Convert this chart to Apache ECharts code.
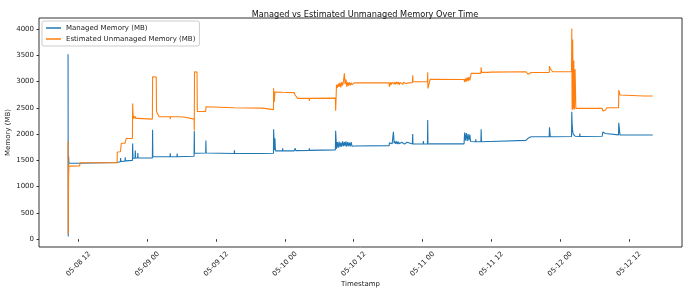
<!doctype html>
<html lang="en">
<head>
    <meta charset="UTF-8">
    <script src="https://cdn.jsdelivr.net/npm/echarts@6/dist/echarts.min.js"></script>
    <title>Managed vs Estimated Unmanaged Memory Over Time</title>
    <style>
        html, body { margin: 0; padding: 0; background: #fff; }
    </style>
</head>
<body>
<div id="main" style="width: 690px;height:295px;"></div>
<script>
    // time = hours since 05-08 00:00
    var times = [
        10.17, 10.20, 10.26, 10.32, 12.20, 12.24, 18.72, 18.76, 19.30, 19.34,
        19.38, 19.46, 20.10, 20.14, 20.18, 20.30, 21.40, 21.44, 21.50, 21.60,
        21.85, 21.90, 21.95, 22.30, 22.34, 22.38, 24.88, 24.92, 24.96, 25.55,
        25.60, 26.05, 27.96, 28.00, 28.04, 29.16, 29.20, 29.24, 30.35, 30.40,
        32.15, 32.19, 32.23, 32.66, 32.72, 34.18, 34.22, 34.26, 39.16, 39.20,
        39.24, 44.10, 44.14, 46.00, 46.03, 46.15, 46.25, 46.35, 47.56, 47.60,
        47.64, 49.60, 49.80, 49.90, 50.22, 52.22, 52.26, 52.30, 56.80, 56.85,
        57.00, 57.15, 57.30, 57.45, 57.60, 57.75, 57.90, 58.05, 58.20, 58.37,
        58.50, 58.65, 58.80, 58.95, 59.10, 59.25, 59.40, 59.55, 59.70, 59.85,
        60.10, 66.18, 66.22, 66.40, 66.55, 66.70, 66.93, 67.05, 67.20, 67.35,
        67.50, 67.65, 67.80, 67.95, 68.10, 68.25, 68.40, 68.55, 68.70, 68.85,
        69.00, 69.15, 69.30, 69.50, 70.24, 70.29, 70.34, 72.12, 72.16, 72.20,
        72.87, 72.91, 72.95, 73.33, 79.25, 79.35, 79.50, 79.65, 79.80, 79.95,
        80.10, 80.25, 80.40, 80.48, 81.25, 81.29, 81.33, 82.19, 82.23, 82.30,
        83.36, 83.40, 83.44, 83.97, 84.00, 90.05, 90.40, 90.60, 90.95, 92.36,
        92.40, 92.44, 94.11, 94.15, 94.30, 94.72, 98.00, 98.04, 98.10, 98.20,
        98.30, 98.40, 98.50, 98.62, 98.75, 99.41, 99.45, 99.49, 103.35, 103.45,
        103.60, 103.75, 103.90, 104.05, 104.15, 106.20, 106.24, 106.45, 106.66, 110.65,
        110.69, 110.73, 112.17
    ];
    var managed = [
        3520, 50, 1580, 1445, 1445, 1460, 1460, 1475, 1475, 1545,
        1480, 1480, 1485, 1560, 1490, 1490, 1500, 1820, 1540, 1540,
        1540, 1690, 1545, 1545, 1640, 1545, 1545, 2085, 1570, 1570,
        1570, 1570, 1570, 1635, 1570, 1570, 1630, 1570, 1575, 1580,
        1580, 2060, 1635, 1635, 1635, 1640, 1880, 1640, 1630, 1690,
        1630, 1630, 1630, 1635, 2090, 1700, 1920, 1680, 1680, 1730,
        1680, 1680, 1730, 1685, 1685, 1690, 1730, 1690, 1700, 2065,
        1720, 1850, 1740, 1860, 1750, 1840, 1760, 1860, 1770, 1850,
        1770, 1860, 1760, 1850, 1770, 1840, 1765, 1850, 1770, 1800,
        1775, 1780, 1835, 1820, 1860, 1815, 2046, 1825, 1865, 1815,
        1860, 1810, 1855, 1815, 1850, 1810, 1845, 1815, 1850, 1810,
        1840, 1815, 1845, 1812, 1812, 2000, 1812, 1812, 1870, 1812,
        1812, 2268, 1812, 1815, 1815, 2030, 1880, 2020, 1870, 2000,
        1880, 1990, 1860, 1855, 1855, 1900, 1855, 1855, 2091, 1855,
        1860, 1895, 1860, 1860, 1880, 1880, 1920, 1930, 1950, 1950,
        1985, 1950, 1950, 2129, 1950, 1950, 1955, 2426, 2200, 2050,
        2000, 1990, 1970, 1960, 1955, 1955, 2010, 1955, 1960, 2040,
        2010, 2045, 2010, 2040, 1983, 1985, 2217, 1983, 1983, 1983,
        2020, 1983, 1983
    ];
    var unmanaged = [
        1860, 100, 1250, 1390, 1395, 1455, 1455, 1660, 1665, 1665,
        1670, 1825, 1825, 1830, 1830, 1915, 1915, 2580, 2400, 2300,
        2340, 2350, 2300, 2300, 2295, 2295, 2285, 3090, 3095, 3085,
        2430, 2330, 2330, 2290, 2330, 2330, 2330, 2330, 2325, 2290,
        2285, 2070, 3186, 3180, 2430, 2430, 2520, 2505, 2500, 2500,
        2500, 2495, 2470, 2465, 2870, 2610, 2800, 2795, 2795, 2760,
        2795, 2790, 2740, 2710, 2680, 2680, 2630, 2680, 2685, 2445,
        2940, 2880, 2960, 2900, 2980, 2890, 2990, 2920, 2995, 3156,
        2950, 3040, 2900, 2990, 2920, 2985, 2930, 2980, 2940, 2975,
        2975, 2975, 2900, 2985, 2940, 2990, 3000, 2950, 2990, 2945,
        2995, 2950, 2990, 2940, 2985, 2960, 2990, 2945, 2985, 2950,
        2980, 2960, 2985, 2975, 2980, 3120, 2996, 2996, 2996, 2996,
        2996, 3175, 2870, 3042, 3040, 2990, 3060, 3000, 3080, 3010,
        3090, 3020, 3100, 3156, 3156, 3156, 3156, 3156, 3270, 3175,
        3175, 3175, 3175, 3180, 3186, 3186, 3140, 3170, 3172, 3172,
        3172, 3172, 3175, 3294, 3240, 3186, 3186, 4011, 2460, 3800,
        2480, 3400, 2470, 3232, 2490, 2490, 2490, 2490, 2490, 2440,
        2460, 2430, 2455, 2435, 2500, 2500, 2838, 2743, 2724, 2724,
        2690, 2724, 2724
    ];
    var xTicks = [12, 24, 36, 48, 60, 72, 84, 96, 108];
    var yTicks = [0, 500, 1000, 1500, 2000, 2500, 3000, 3500, 4000];

    function pad(n) { return (n < 10 ? '0' : '') + n; }
    function fmtHour(h) {
        var day = 8 + Math.floor(h / 24);
        return '05-' + pad(day) + ' ' + pad(Math.round(h % 24));
    }
    function pairs(vals) {
        var out = [];
        for (var i = 0; i < times.length; i++) {
            out.push([times[i], vals[i]]);
        }
        return out;
    }

    var font = 'DejaVu Sans';
    var ink = '#222';
    var myChart = echarts.init(document.getElementById('main'));
    var option = {
        animation: false,
        backgroundColor: '#fff',
        textStyle: {fontFamily: font},
        title: {
            text: 'Managed vs Estimated Unmanaged Memory Over Time',
            left: 360,
            top: 6,
            textAlign: 'center',
            textStyle: {fontFamily: font, fontSize: 8.2, fontWeight: 'normal', color: '#111'}
        },
        legend: {
            orient: 'vertical',
            left: 42,
            top: 21,
            padding: [3, 4, 3, 4],
            itemWidth: 15,
            itemHeight: 1.5,
            itemGap: 3,
            icon: 'rect',
            borderColor: '#ccc',
            borderWidth: 1,
            borderRadius: 2,
            backgroundColor: 'rgba(255,255,255,0.8)',
            textStyle: {fontFamily: font, fontSize: 7, color: ink, lineHeight: 8},
            data: ['Managed Memory (MB)', 'Estimated Unmanaged Memory (MB)']
        },
        grid: {
            left: 39,
            right: 8,
            top: 18,
            bottom: 48,
            outerBoundsMode: 'none',
            containLabel: false,
            show: true,
            borderColor: '#333',
            borderWidth: 1,
            backgroundColor: 'transparent'
        },
        xAxis: {
            type: 'value',
            min: 5.1,
            max: 117.27,
            name: 'Timestamp',
            nameLocation: 'middle',
            nameGap: 34,
            nameMoveOverlap: false,
            nameTextStyle: {fontFamily: font, fontSize: 7, color: ink},
            axisLine: {show: false},
            axisTick: {show: true, length: 2.5, customValues: xTicks, lineStyle: {color: '#333'}},
            axisLabel: {
                customValues: xTicks,
                rotate: 45,
                align: 'center',
                verticalAlign: 'middle',
                margin: 17,
                fontFamily: font,
                fontSize: 7,
                color: ink,
                formatter: function (v) { return fmtHour(v); }
            },
            splitLine: {show: false}
        },
        yAxis: {
            type: 'value',
            min: -148,
            max: 4209,
            name: 'Memory (MB)',
            nameLocation: 'middle',
            nameRotate: 90,
            nameGap: 27,
            nameMoveOverlap: false,
            nameTextStyle: {fontFamily: font, fontSize: 7, color: ink},
            axisLine: {show: false},
            axisTick: {show: true, length: 2.5, customValues: yTicks, lineStyle: {color: '#333'}},
            axisLabel: {
                customValues: yTicks,
                margin: 5,
                fontFamily: font,
                fontSize: 7,
                color: ink,
                formatter: function (v) { return String(v); }
            },
            splitLine: {show: false}
        },
        series: [
            {
                name: 'Managed Memory (MB)',
                type: 'line',
                showSymbol: false,
                symbol: 'none',
                color: '#1f77b4',
                lineStyle: {width: 1.1, color: '#1f77b4'},
                data: pairs(managed)
            },
            {
                name: 'Estimated Unmanaged Memory (MB)',
                type: 'line',
                showSymbol: false,
                symbol: 'none',
                color: '#ff7f0e',
                lineStyle: {width: 1.1, color: '#ff7f0e'},
                data: pairs(unmanaged)
            }
        ]
    };
    myChart.setOption(option);
</script>
</body>
</html>
